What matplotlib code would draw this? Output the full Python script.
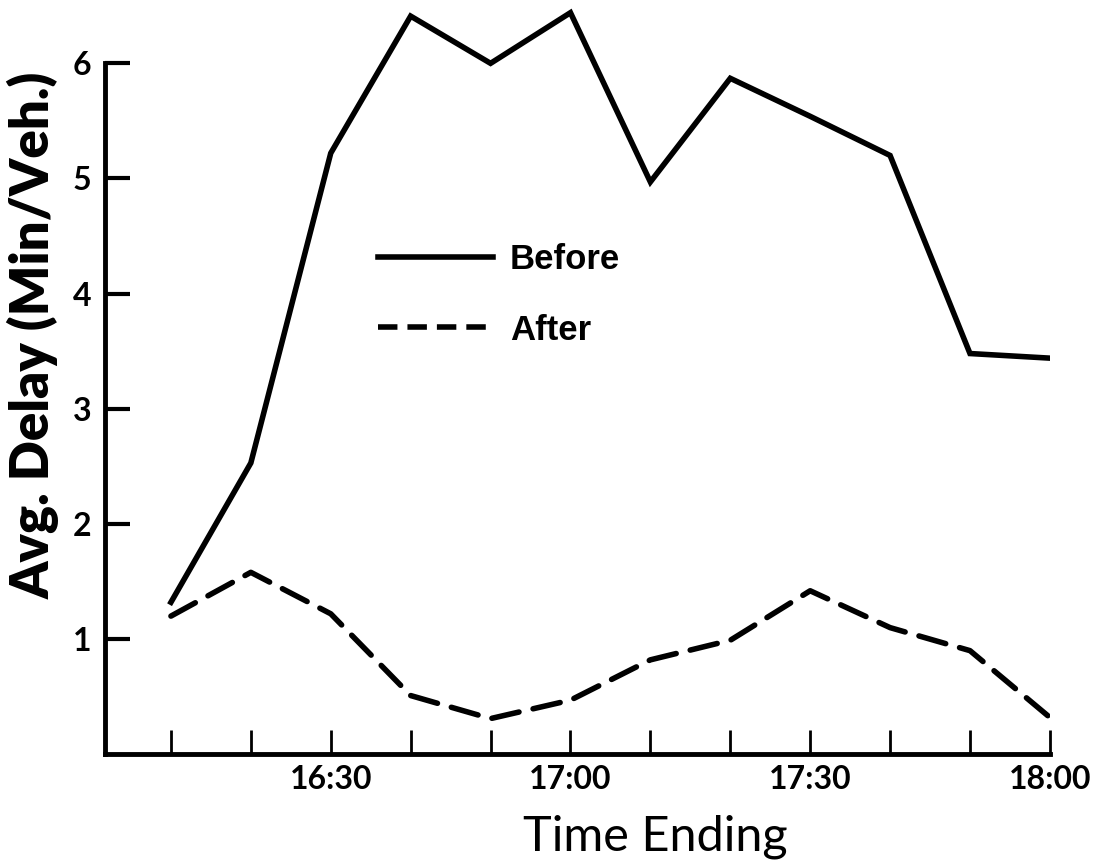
import matplotlib
matplotlib.use('Agg')
import matplotlib.pyplot as plt
from matplotlib.lines import Line2D

# minutes after 16:00 for each "time ending" interval
minutes = [10, 20, 30, 40, 50, 60, 70, 80, 90, 100, 110, 120]
before = [1.32, 2.53, 5.22, 6.41, 6.00, 6.44, 4.97, 5.87, 5.54, 5.20, 3.48, 3.44]
after = [1.20, 1.58, 1.22, 0.51, 0.31, 0.47, 0.82, 0.99, 1.42, 1.10, 0.90, 0.32]

tick_labels = ['', '', '16:30', '', '', '17:00', '', '', '17:30', '', '', '18:00']
y_ticks = [1, 2, 3, 4, 5, 6]

fig = plt.figure(figsize=(11.09, 8.67), dpi=100)
ax = fig.add_axes([0.0947, 0.130, 0.852, 0.870])

ax.plot(minutes, before, color='black', lw=4, solid_joinstyle='miter')
ax.plot(minutes, after, color='black', lw=4, linestyle=(0, (5, 2.6)),
        dash_capstyle='round')

ax.set_xlim(1.75, 120)
ax.set_ylim(0, 6.55)

for side in ['top', 'right']:
    ax.spines[side].set_visible(False)
ax.spines['left'].set_linewidth(3.5)
ax.spines['bottom'].set_linewidth(3.5)
ax.spines['left'].set_bounds(0, 6)

ax.set_xticks(minutes)
ax.set_xticklabels(tick_labels)
ax.set_yticks(y_ticks)
ax.tick_params(axis='x', direction='in', length=17, width=2, pad=8)
ax.tick_params(axis='y', direction='in', length=18, width=3, pad=10)

for lab in ax.get_xticklabels() + ax.get_yticklabels():
    lab.set_fontfamily('Lato')
    lab.set_fontweight('bold')
    lab.set_fontsize(23)

ax.set_xlabel('Time Ending', fontfamily='Lato', fontsize=35)
ax.xaxis.set_label_coords(0.582, -0.08)
ax.set_ylabel('Avg. Delay (Min/Veh.)', fontfamily='Lato', fontweight='heavy',
              fontsize=38)
ax.yaxis.set_label_coords(-0.048, 0.555)

handles = [Line2D([], [], color='black', lw=4),
           Line2D([], [], color='black', lw=4, linestyle=(0, (3.5, 1.8)))]
ax.legend(handles, ['Before', 'After'], loc='upper left',
          bbox_to_anchor=(378 / 1109, 1 - 243 / 867), bbox_transform=fig.transFigure,
          frameon=False, handlelength=3.3, handletextpad=0.5, labelspacing=1.08,
          borderpad=0, borderaxespad=0,
          prop={'family': 'Liberation Sans', 'weight': 'bold', 'size': 25})

fig.savefig('out.png', dpi=100)
